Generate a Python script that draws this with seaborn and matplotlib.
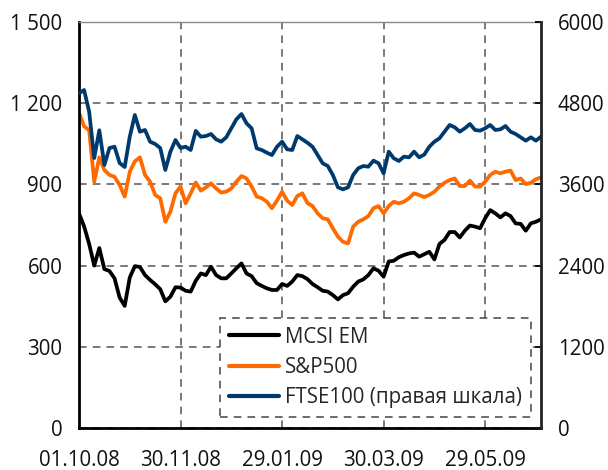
import matplotlib
matplotlib.use("Agg")
import matplotlib.pyplot as plt
import seaborn as sns
import pandas as pd

# ---- data (sampled every 3 calendar days from 01.10.2008) ----
mcsi = [793, 745, 680, 600, 665, 587, 580, 553, 482, 451,
        556, 598, 595, 565, 547, 531, 513, 468, 485, 520,
        519, 507, 504, 544, 571, 565, 596, 565, 553, 553,
        571, 590, 608, 571, 561, 535, 525, 516, 510, 510,
        532, 525, 541, 565, 561, 550, 532, 520, 507, 504,
        491, 475, 491, 498, 522, 541, 549, 565, 590, 581,
        559, 615, 618, 631, 639, 645, 648, 633, 642, 651,
        623, 680, 695, 724, 724, 704, 729, 748, 744, 738,
        775, 805, 793, 778, 793, 783, 756, 754, 729, 756,
        762, 771]
sp500 = [1165, 1115, 1100, 910, 1000, 953, 935, 928, 898, 855,
         947, 985, 1000, 935, 910, 861, 849, 762, 799, 867,
         892, 830, 867, 907, 877, 889, 904, 885, 870, 873,
         885, 910, 931, 922, 892, 855, 849, 836, 812, 840,
         873, 840, 824, 857, 867, 831, 820, 793, 775, 771,
         738, 707, 688, 682, 744, 762, 771, 783, 812, 820,
         793, 820, 836, 830, 836, 849, 867, 861, 853, 861,
         873, 892, 906, 916, 922, 894, 894, 914, 892, 892,
         910, 935, 947, 941, 947, 951, 916, 922, 901, 906,
         919, 926]
ftse = [4946, 4995, 4674, 3990, 4400, 3887, 4138, 4157, 3916, 3857,
        4305, 4626, 4379, 4404, 4231, 4197, 4138, 3813, 4083, 4256,
        4138, 4157, 4108, 4390, 4305, 4315, 4345, 4266, 4231, 4296,
        4429, 4562, 4640, 4503, 4429, 4133, 4108, 4069, 4034, 4157,
        4231, 4118, 4108, 4315, 4266, 4215, 4157, 4034, 3912, 3872,
        3739, 3557, 3527, 3557, 3739, 3838, 3872, 3862, 3951, 3912,
        3764, 4084, 3986, 3946, 4010, 4000, 4084, 4000, 4040, 4157,
        4231, 4281, 4379, 4478, 4444, 4379, 4429, 4493, 4404, 4394,
        4429, 4478, 4404, 4414, 4463, 4379, 4345, 4296, 4246, 4296,
        4246, 4305]
series_names = ["MCSI EM", "S&P500", "FTSE100 (правая шкала)"]
xtick_dates = ["2008-10-01", "2008-11-30", "2009-01-29", "2009-03-30", "2009-05-29"]
xtick_labels = ["01.10.08", "30.11.08", "29.01.09", "30.03.09", "29.05.09"]
left_ticks = [0, 300, 600, 900, 1200, 1500]
left_labels = ["0", "300", "600", "900", "1 200", "1 500"]
right_ticks = [0, 1200, 2400, 3600, 4800, 6000]
right_labels = ["0", "1200", "2400", "3600", "4800", "6000"]

dates = pd.date_range("2008-10-01", periods=len(mcsi), freq="3D")
df = pd.DataFrame({"date": dates, "mcsi": mcsi, "sp": sp500, "ftse": ftse})

sns.set_style("white")
plt.rcParams["font.family"] = ["Open Sans", "DejaVu Sans"]
FS = 14.8

fig = plt.figure(figsize=(6.08, 4.70), dpi=100)
ax = fig.add_axes([79/608, 42/470, 462/608, 406/470])
ax2 = ax.twinx()

c_black, c_orange, c_blue = "#000000", "#FF6A00", "#003A6C"
LW = 2.7
sns.lineplot(data=df, x="date", y="mcsi", ax=ax, color=c_black, lw=LW, legend=False)
sns.lineplot(data=df, x="date", y="sp", ax=ax, color=c_orange, lw=LW, legend=False)
sns.lineplot(data=df, x="date", y="ftse", ax=ax2, color=c_blue, lw=LW, legend=False)

ax.set_xlim(pd.Timestamp("2008-10-01"), pd.Timestamp("2009-07-01"))
ax.set_ylim(0, 1500)
ax2.set_ylim(0, 6000)
ax.set_xlabel("")
ax.set_ylabel("")
ax2.set_ylabel("")

ax.set_xticks(pd.to_datetime(xtick_dates))
ax.set_xticklabels(xtick_labels, fontsize=FS)
ax.set_yticks(left_ticks)
ax.set_yticklabels(left_labels, fontsize=FS)
ax2.set_yticks(right_ticks)
ax2.set_yticklabels(right_labels, fontsize=FS)

ax.tick_params(axis="x", length=0, pad=16, colors="#111111")
ax.tick_params(axis="y", length=0, pad=12, colors="#111111")
ax2.tick_params(axis="y", direction="in", length=4, width=1.4, pad=12, colors="#111111")

ax.grid(True, linestyle=(0, (5, 4)), color="#555555", linewidth=1.1)
ax.set_axisbelow(True)

for side in ["left", "bottom"]:
    ax.spines[side].set_color("#000000")
    ax.spines[side].set_linewidth(2.0)
ax.spines["top"].set_color("#888888")
ax.spines["top"].set_linewidth(1.0)
ax.spines["right"].set_visible(False)
for side in ["left", "bottom", "top"]:
    ax2.spines[side].set_visible(False)
ax2.spines["right"].set_color("#222222")
ax2.spines["right"].set_linewidth(2.0)

handles = [ax.lines[0], ax.lines[1], ax2.lines[0]]
leg = ax2.legend(handles, series_names, loc="upper left",
                 bbox_to_anchor=((220-79)/462, (428-318)/406),
                 borderaxespad=0, fontsize=FS, handlelength=2.45,
                 handletextpad=0.3, labelspacing=0.45, borderpad=0.42,
                 frameon=True, fancybox=False, framealpha=1)
fr = leg.get_frame()
fr.set_edgecolor("#444444")
fr.set_linestyle((0, (5, 4)))
fr.set_linewidth(1.1)
fr.set_facecolor("white")
for h in leg.legend_handles:
    h.set_linewidth(3.0)

fig.savefig("out.png", dpi=100)
